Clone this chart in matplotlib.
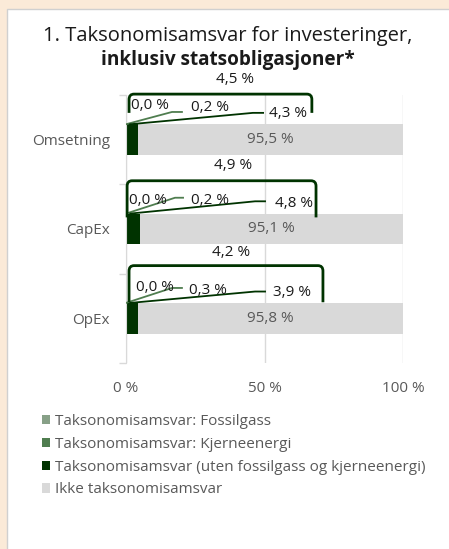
import matplotlib
matplotlib.use('Agg')
import matplotlib.pyplot as plt
from matplotlib.path import Path
from matplotlib.patches import PathPatch, Rectangle

plt.rcParams['font.family'] = ['Open Sans', 'DejaVu Sans']

categories = ['Omsetning', 'CapEx', 'OpEx']
fossilgass = [0.0, 0.0, 0.0]
kjerneenergi = [0.2, 0.2, 0.3]
taksonomi = [4.3, 4.8, 3.9]
ikke_taksonomi = [95.5, 95.1, 95.8]
totals = [4.5, 4.9, 4.2]
x_ticks = [0, 50, 100]
x_tick_labels = ['0 %', '50 %', '100 %']
series_names = ['Taksonomisamsvar: Fossilgass',
                'Taksonomisamsvar: Kjerneenergi',
                'Taksonomisamsvar (uten fossilgass og kjerneenergi)',
                'Ikke taksonomisamsvar']
colors = ['#87a087', '#4f7d4f', '#003300', '#d9d9d9']


def fmt(v):
    return f'{v:.1f} %'.replace('.', ',')


fig = plt.figure(figsize=(4.49, 5.49), dpi=100)
fig.patch.set_facecolor('#fbead8')
fig.patches.append(Rectangle((7 / 449, -0.01), 1, 1.01 - 9 / 549, transform=fig.transFigure,
                             facecolor='white', edgecolor='#d0d0d0', linewidth=1, zorder=-1))

fig.text(0.508, 0.934, '1. Taksonomisamsvar for investeringer,', ha='center', va='center',
         fontsize=14.5, color='#1a1a1a')
fig.text(0.508, 0.890, 'inklusiv statsobligasjoner*', ha='center', va='center',
         fontsize=13.7, fontweight='bold', color='#1a1a1a')

ax = fig.add_axes([126 / 449, 186 / 549, 277 / 449, 268 / 549])
ypos = list(range(len(categories)))
bh = 0.345
left = [0] * 3
bars = []
for vals, c in zip([fossilgass, kjerneenergi, taksonomi, ikke_taksonomi], colors):
    b = ax.barh(ypos, vals, left=left, height=bh, color=c, zorder=2)
    bars.append(b)
    left = [l + v for l, v in zip(left, vals)]

ax.set_xlim(0, 100)
ax.set_ylim(2.5, -0.5)
ax.set_yticks(ypos)
ax.set_yticklabels(categories, fontsize=11, color='#595959')
ax.set_yticks([-0.5, 0.5, 1.5, 2.5], minor=True)
ax.tick_params(axis='y', which='major', length=0, pad=11.5)
ax.tick_params(axis='y', which='minor', length=5, color='#d9d9d9', width=1)
ax.set_xticks(x_ticks)
ax.set_xticklabels(x_tick_labels, fontsize=11, color='#595959')
ax.tick_params(axis='x', length=0, pad=13)
ax.xaxis.grid(True, color='#d9d9d9', linewidth=1, zorder=0)
for s in ['top', 'right', 'bottom']:
    ax.spines[s].set_visible(False)
ax.spines['left'].set_color('#d9d9d9')
ax.set_axisbelow(True)

# label layout per category (x in %, y offset from bar centre)
lab_fg = [(8.7, -0.38), (8.0, -0.32), (10.5, -0.35)]
lab_kj = [(30.3, -0.355), (30.3, -0.32), (29.6, -0.31)]
lab_tx = [(58.5, -0.29), (60.5, -0.285), (60.0, -0.29)]
lab_tot = [(39.4, -0.67), (38.6, -0.71), (37.9, -0.74)]
brackets = [(1.1, 67.1, -0.51, -0.30), (0.4, 68.6, -0.54, -0.13), (1.1, 71.1, -0.59, -0.18)]
lead_kj = [(16.6, 20.2, -0.31), (17.7, 20.6, -0.35), (16.6, 20.2, -0.34)]
lead_tx = [(45.8, 49.5, -0.30), (46.6, 50.2, -0.31), (46.6, 50.2, -0.30)]

for i, y in enumerate(ypos):
    top = y - bh / 2
    # leader lines
    x1, x2, dy = lead_kj[i]
    ax.plot([0, x1, x2], [top, y + dy, y + dy], color=colors[1], lw=1.3, zorder=3)
    x1, x2, dy = lead_tx[i]
    ax.plot([1.5, x1, x2], [top, y + dy, y + dy], color=colors[2], lw=1.3, zorder=3)
    # data labels
    for (lx, ly), v in zip([lab_fg[i], lab_kj[i], lab_tx[i]],
                           [fossilgass[i], kjerneenergi[i], taksonomi[i]]):
        ax.text(lx, y + ly, fmt(v), ha='center', va='center', fontsize=11,
                color='#1a1a1a', zorder=4)
    ax.text(totals[i] + ikke_taksonomi[i] / 2, y, fmt(ikke_taksonomi[i]), ha='center',
            va='center', fontsize=11, color='#595959', zorder=4)
    tx, ty = lab_tot[i]
    ax.text(tx, y + ty, fmt(totals[i]), ha='center', va='center', fontsize=11,
            color='#1a1a1a', zorder=4)
    # bracket
    bx0, bx1, byt, byb = brackets[i]
    rx, ry = 1.8, 0.06
    verts = [(bx0, y + byb), (bx0, y + byt + ry), (bx0, y + byt), (bx0 + rx, y + byt),
             (bx1 - rx, y + byt), (bx1, y + byt), (bx1, y + byt + ry), (bx1, y + byb)]
    codes = [Path.MOVETO, Path.LINETO, Path.CURVE3, Path.CURVE3,
             Path.LINETO, Path.CURVE3, Path.CURVE3, Path.LINETO]
    ax.add_patch(PathPatch(Path(verts, codes), facecolor='none', edgecolor=colors[2],
                           lw=2, zorder=3, clip_on=False))

handles = [b[0] for b in bars]
fig.legend(handles, series_names, loc='upper left', bbox_to_anchor=(34 / 449, 1 - 406 / 549),
           frameon=False, fontsize=11, labelcolor='#595959', handlelength=0.55,
           handleheight=0.55, handletextpad=0.3, labelspacing=0.52, borderpad=0)

fig.savefig('out.png', dpi=100)
